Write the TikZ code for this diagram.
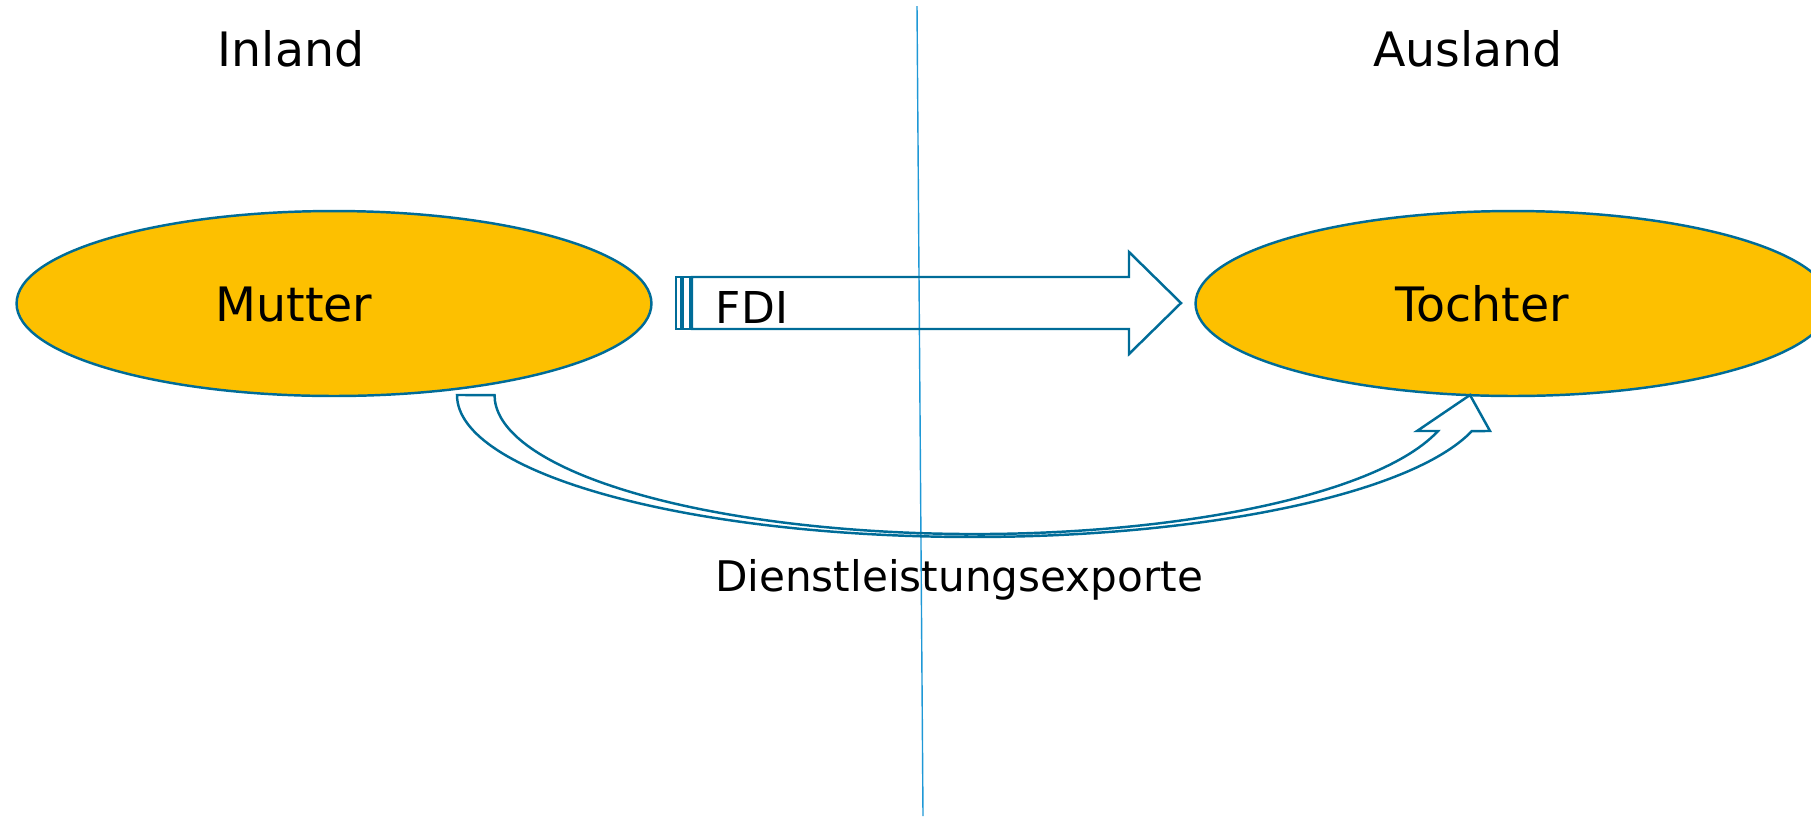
\documentclass[tikz,border=0pt]{standalone}
\usepackage{fontspec}
\setmainfont{DejaVu Sans}
\usetikzlibrary{calc, positioning, shapes.geometric}

\definecolor{firmfill}{RGB}{253,192,0}
\definecolor{firmline}{RGB}{0,108,152}
\definecolor{borderline}{RGB}{30,152,214}

\begin{document}
\begin{tikzpicture}[
    x=0.02cm, y=-0.02cm,
    line join=miter,
    font=\fontsize{27}{32}\selectfont
]

    % Styles
    % Firms are filled ellipses, arrows are outlined block shapes.
    \tikzset{firm/.style={
        draw=firmline,
        fill=firmfill,
        line width=1.4pt,
        ellipse,
        minimum width=12.7cm,
        minimum height=3.7cm,
        inner sep=0pt
    }}
    \tikzset{blockarrow/.style={draw=firmline, line width=1.4pt}}
    \tikzset{smalltext/.style={font=\fontsize{24}{28}\selectfont}}

    % Frame (pixel grid, y down)
    \useasboundingbox (0,0) rectangle (1811,816);
    \clip (0,0) rectangle (1811,816);

    % Border between home and foreign country
    \coordinate (BorderTop) at (917,6);
    \coordinate (BorderBot) at (923,816);
    \draw[borderline, line width=0.8pt] (BorderTop) -- (BorderBot);

    % Parent and subsidiary
    \node[firm] (Mutter) at (334,303.5) {};
    \node[firm] (Tochter) at (1513,303.5) {};

    % Texts
    \node[anchor=base] (InlandLbl) at (291,66) {Inland};
    \node[anchor=base] (AuslandLbl) at (1468,66) {Ausland};
    \node[anchor=base] (MutterLbl) at (294,321) {Mutter};
    \node[anchor=base] (TochterLbl) at (1482,321) {Tochter};

    % FDI arrow (striped right arrow)
    \draw[blockarrow] (676,277) rectangle (681,329);
    \draw[blockarrow] (683,277) rectangle (690,329);
    \draw[blockarrow] (692,277) -- (1129,277) -- (1129,252) -- (1181,303)
        -- (1129,354) -- (1129,329) -- (692,329) -- cycle;
    \node[font=\fontsize{25}{30}\selectfont, anchor=base] (FDILbl) at (752,323) {FDI};

    % Service exports (curved up arrow)
    \coordinate (TailOut) at (457,395);
    \coordinate (TipExp) at (1470,395);
    \draw[blockarrow] (TailOut)
        arc[start angle=180, end angle=345.3, x radius=10.32cm, y radius=2.84cm]
        -- (1490,431) -- (TipExp) -- (1417,431) -- (1438,431)
        arc[start angle=345, end angle=180, x radius=9.6cm, y radius=2.78cm]
        -- cycle;
    \node[smalltext, anchor=base] (ExportLbl) at (959,591) {Dienstleistungsexporte};

\end{tikzpicture}
\end{document}
